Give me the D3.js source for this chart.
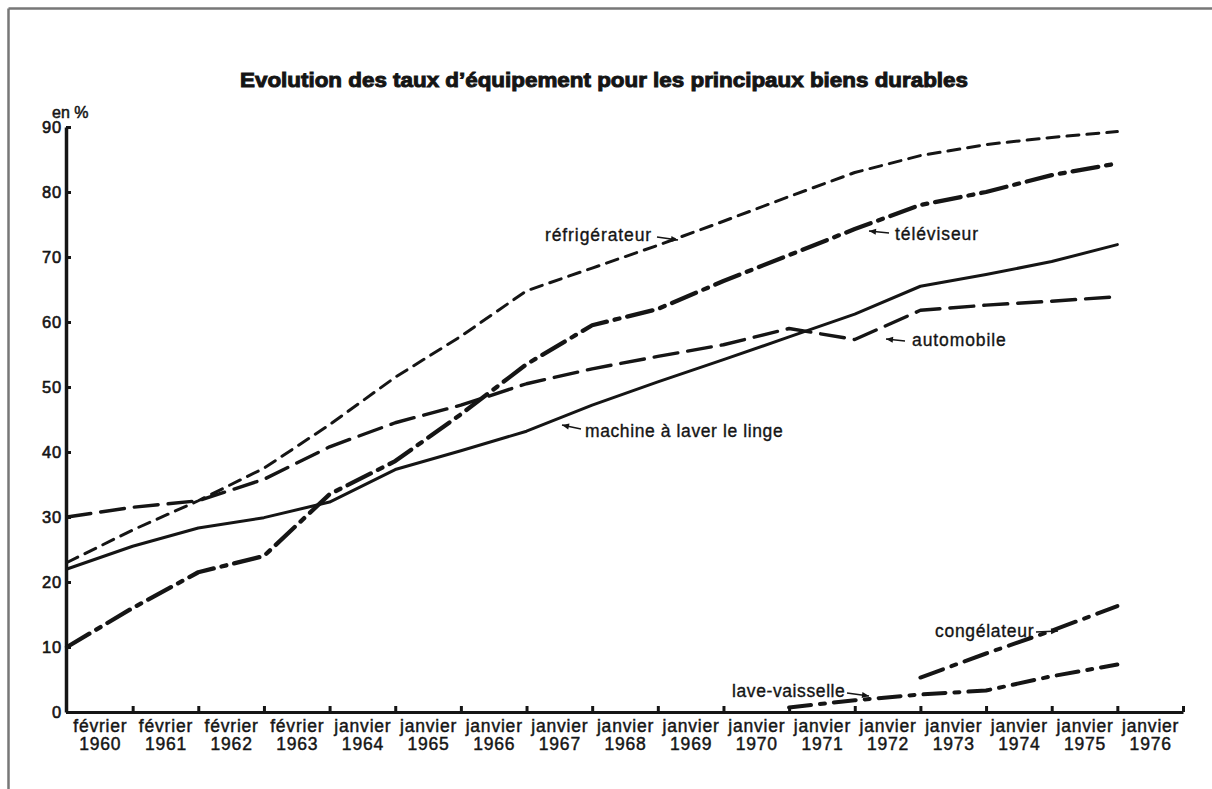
<!DOCTYPE html>
<html><head><meta charset="utf-8">
<script src="https://cdn.jsdelivr.net/npm/d3@7"></script>
<style>body{margin:0;background:#fff}svg{display:block}</style>
</head><body>
<svg id="c" width="1212" height="789"></svg>
<script>
// ---- data ----
const months = ["février","février","février","février","janvier","janvier","janvier","janvier","janvier","janvier","janvier","janvier","janvier","janvier","janvier","janvier","janvier"];
const years = ["1960","1961","1962","1963","1964","1965","1966","1967","1968","1969","1970","1971","1972","1973","1974","1975","1976"];
const yTicks = [0,10,20,30,40,50,60,70,80,90];
const refrigerateur = [23, 28, 32.5, 37.5, 44.2, 51.5, 57.8, 64.8, 68.3, 71.8, 75.5, 79.3, 83, 85.6, 87.3, 88.4, 89.3];
const televiseur    = [10, 16, 21.5, 24, 33.5, 38.6, 45.8, 53.5, 59.5, 62, 66.3, 70.3, 74.3, 78, 80, 82.6, 84.4];
const automobile    = [30, 31.5, 32.5, 35.8, 40.8, 44.5, 47.2, 50.5, 52.8, 54.7, 56.5, 59, 57.3, 61.8, 62.6, 63.2, 63.9];
const machine       = [22, 25.5, 28.3, 29.9, 32.3, 37.3, 40.2, 43.2, 47.2, 50.8, 54.2, 57.7, 61.2, 65.5, 67.3, 69.3, 71.9];
const congelateur   = [null,null,null,null,null,null,null,null,null,null,null,null,null, 5.3, 9, 12.5, 16.3];
const laveVaisselle = [null,null,null,null,null,null,null,null,null,null,null, 0.7, 1.8, 2.7, 3.3, 5.5, 7.3];

// ---- layout ----
const svg = d3.select("#c");
const FONT = "'Liberation Sans', Arial, Helvetica, sans-serif";
const x = d3.scaleLinear().domain([0, 17]).range([67, 1183]);
const y = d3.scaleLinear().domain([0, 90]).range([712, 127]);
const ink = "#151515";

// frame
svg.append("line").attr("x1",8.5).attr("y1",8.5).attr("x2",1212).attr("y2",8.5).attr("stroke","#777").attr("stroke-width",2.5);
svg.append("line").attr("x1",8.5).attr("y1",8.5).attr("x2",8.5).attr("y2",789).attr("stroke","#777").attr("stroke-width",2.5);

// title
svg.append("text").attr("x",240).attr("y",87).attr("textLength",728).attr("lengthAdjust","spacingAndGlyphs")
  .attr("font-family",FONT).attr("font-weight","bold").attr("font-size",21)
  .attr("fill",ink).attr("stroke",ink).attr("stroke-width",1)
  .text("Evolution des taux d’équipement pour les principaux biens durables");

// y axis
const yAxis = svg.append("g").attr("transform","translate(66,0)")
  .call(d3.axisLeft(y).tickValues(yTicks).tickSize(-5).tickPadding(4).tickSizeOuter(0));
yAxis.select(".domain").attr("stroke",ink).attr("stroke-width",3.5);
yAxis.selectAll(".tick line").attr("stroke",ink).attr("stroke-width",3);
yAxis.selectAll(".tick text").attr("font-family",FONT).attr("font-size",16.5).attr("fill",ink)
  .attr("letter-spacing",0.8).attr("stroke",ink).attr("stroke-width",0.6).attr("dy","0.36em");
svg.append("text").attr("x",52).attr("y",118).attr("font-family",FONT).attr("font-size",16)
  .attr("fill",ink).attr("stroke",ink).attr("stroke-width",0.5).text("en %");

// x axis (ticks at the data points, labels between ticks)
const xAxis = svg.append("g").attr("transform",`translate(0,${y(0)})`)
  .call(d3.axisBottom(x).tickValues(d3.range(1,18)).tickSize(-6).tickSizeOuter(0).tickFormat(""));
xAxis.select(".domain").attr("stroke",ink).attr("stroke-width",3.2);
xAxis.selectAll(".tick line").attr("stroke",ink).attr("stroke-width",3);

const xLab = svg.append("g").attr("transform",`translate(0,${y(0)})`)
  .call(d3.axisBottom(x).tickValues(d3.range(0,17).map(i=>i+0.5)).tickSize(0).tickPadding(0).tickFormat(""));
xLab.select(".domain").remove();
xLab.selectAll(".tick").each(function(d){
  const i = Math.floor(d);
  const t = d3.select(this).append("text").attr("font-family",FONT).attr("font-size",17.5)
    .attr("letter-spacing",0.8)
    .attr("fill",ink).attr("stroke",ink).attr("stroke-width",0.45).attr("text-anchor","middle");
  t.append("tspan").attr("x",0).attr("y",20).text(months[i]);
  t.append("tspan").attr("x",0).attr("y",38).text(years[i]);
});

// series
const series = [
  {name:"réfrigérateur", values: refrigerateur, dash:"12,8", w:3},
  {name:"automobile", values: automobile, dash:"24,10", w:3.4},
  {name:"machine", values: machine, dash:null, w:3},
  {name:"téléviseur", values: televiseur, dash:"26,8,5,8", w:4.3},
  {name:"congélateur", values: congelateur, dash:"24,9,5,9", w:4},
  {name:"lave-vaisselle", values: laveVaisselle, dash:"22,9,5,9", w:4}
];
const line = d3.line().defined(d=>d!=null).x((d,i)=>x(i)).y(d=>y(d));
svg.append("g").selectAll("path").data(series).join("path")
  .attr("d", s=>line(s.values)).attr("fill","none").attr("stroke",ink)
  .attr("stroke-width",s=>s.w).attr("stroke-dasharray",s=>s.dash)
  .attr("stroke-linecap","round").attr("stroke-linejoin","round");

// annotations with arrows
const notes = [
  {text:"réfrigérateur", tx:545, ty:241, ls:0.9, a:[657,237,678,240]},
  {text:"téléviseur", tx:895, ty:240, ls:0.9, a:[889,233,869,231]},
  {text:"automobile", tx:912, ty:346, ls:0.9, a:[905,341,886,339]},
  {text:"machine à laver le linge", tx:585, ty:437, ls:0.6, a:[581,429,562,425]},
  {text:"congélateur", tx:935, ty:637, ls:0.7, a:[1036,632,1058,631]},
  {text:"lave-vaisselle", tx:732, ty:697, ls:0.6, a:[847,693,869,696]}
];
const ng = svg.append("g");
notes.forEach(n=>{
  ng.append("text").attr("x",n.tx).attr("y",n.ty)
    .attr("font-family",FONT).attr("font-size",17.5).attr("letter-spacing",n.ls).attr("fill",ink)
    .attr("stroke",ink).attr("stroke-width",0.35).text(n.text);
  const [x1,y1,x2,y2] = n.a;
  ng.append("line").attr("x1",x1).attr("y1",y1).attr("x2",x2).attr("y2",y2)
    .attr("stroke",ink).attr("stroke-width",1.4);
  const ang = Math.atan2(y2-y1, x2-x1);
  const L = 7, W = 3;
  const bx = x2 - L*Math.cos(ang), by = y2 - L*Math.sin(ang);
  const px = -Math.sin(ang)*W, py = Math.cos(ang)*W;
  ng.append("path").attr("d",`M${x2},${y2}L${bx+px},${by+py}L${bx-px},${by-py}Z`).attr("fill",ink);
});
</script>
</body></html>
